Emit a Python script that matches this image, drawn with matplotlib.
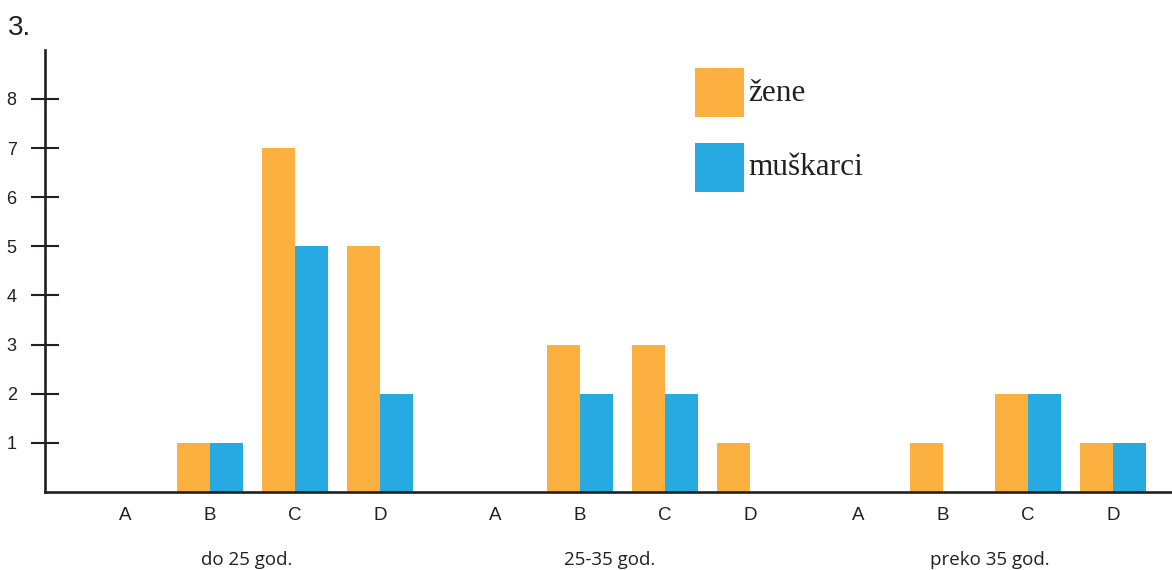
import matplotlib
matplotlib.use("Agg")
import matplotlib.pyplot as plt
from matplotlib.patches import Rectangle

# ---- data ----
groups = ["do 25 god.", "25-35 god.", "preko 35 god."]
categories = ["A", "B", "C", "D"]
zene = [[0, 1, 7, 5], [0, 3, 3, 1], [0, 1, 2, 1]]
muskarci = [[0, 1, 5, 2], [0, 2, 2, 0], [0, 0, 2, 1]]
yticks = [1, 2, 3, 4, 5, 6, 7, 8]
legend_labels = ["žene", "muškarci"]
title = "3."

# ---- layout / style ----
W, H = 1172, 570
ORANGE = "#FBB040"
BLUE = "#27AAE1"
DARK = "#231F20"
group_starts = [125, 495, 858]
spacing = 85
bar_w = 33
ax_left, ax_bottom, ax_top = 45, 492, 50
unit = 49.14
group_label_shift = [-6, -13, 4]

fig = plt.figure(figsize=(W / 100, H / 100), dpi=100)
ax = fig.add_axes([ax_left / W, (H - ax_bottom) / H, (W - ax_left) / W, (ax_bottom - ax_top) / H])
ax.set_xlim(ax_left, W)
ax.set_ylim(0, (ax_bottom - ax_top) / unit)

xt, xl = [], []
for g, start in enumerate(group_starts):
    for k, cat in enumerate(categories):
        c = start + k * spacing
        xt.append(c)
        xl.append(cat)
        if zene[g][k] > 0:
            ax.bar(c - bar_w / 2, zene[g][k], width=bar_w, color=ORANGE, linewidth=0, zorder=2)
        if muskarci[g][k] > 0:
            ax.bar(c + bar_w / 2, muskarci[g][k], width=bar_w, color=BLUE, linewidth=0, zorder=2)
    gc = start + 1.5 * spacing + group_label_shift[g]
    fig.text(gc / W, (H - 565) / H, groups[g], ha="center", va="baseline",
             fontsize=13.5, family="Open Sans", color=DARK)

for s in ["top", "right"]:
    ax.spines[s].set_visible(False)
for s in ["left", "bottom"]:
    ax.spines[s].set_color(DARK)
    ax.spines[s].set_linewidth(1.9)
    ax.spines[s].set_zorder(3)

ax.set_yticks(yticks)
ax.set_yticklabels([str(v) for v in yticks], family="Liberation Sans", fontsize=13, color=DARK)
ax.tick_params(axis="y", direction="inout", length=20, width=1.5, color=DARK)
ax.set_xticks(xt)
ax.set_xticklabels(xl, family="Liberation Sans", fontsize=13.5, color=DARK)
ax.tick_params(axis="x", length=0, pad=11)
for lab in ax.get_yticklabels():
    lab.set_horizontalalignment("center")
ax.tick_params(axis="y", pad=14)

# title
fig.text(8 / W, (H - 35) / H, title, ha="left", va="baseline", fontsize=20,
         family="Liberation Sans", color=DARK)

# legend
for i, (lab, col) in enumerate(zip(legend_labels, [ORANGE, BLUE])):
    top = 68 + i * 75
    fig.add_artist(Rectangle((695 / W, (H - top - 49) / H), 49 / W, 49 / H,
                             transform=fig.transFigure, color=col, linewidth=0))
    fig.text(748 / W, (H - (101 + i * 74)) / H, lab, ha="left", va="baseline",
             fontsize=22.5, family="Liberation Serif", color=DARK)

fig.savefig("out.png", dpi=100)
